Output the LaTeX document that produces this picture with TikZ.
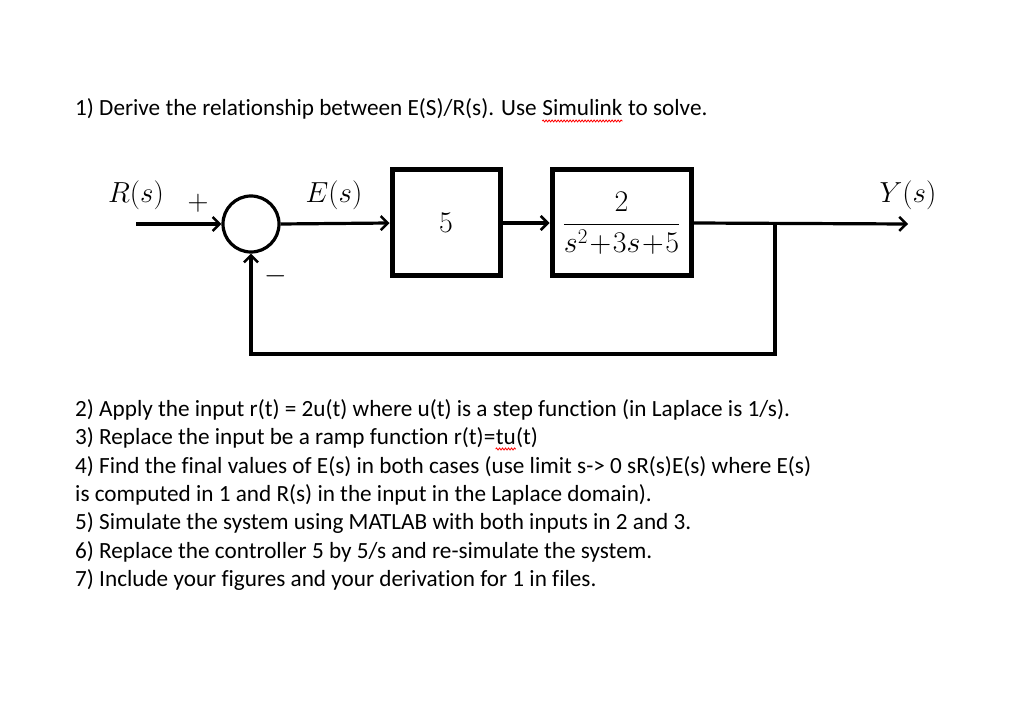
\RequirePackage{fix-cm}
\documentclass[tikz,border=0pt]{standalone}
\usepackage{fontspec}
\setmainfont[Ligatures=NoCommon]{Carlito}
\usetikzlibrary{arrows.meta,decorations.pathmorphing}
\begin{document}
\begin{tikzpicture}[x=1pt,y=-1pt,
  sig/.style={line width=3.2pt,-{Straight Barb[length=7pt,width=14pt,line width=2.5pt]}},
  wire/.style={line width=3.2pt},
  blk/.style={draw,line width=5pt,inner sep=0pt,minimum height=106pt,font=\fontsize{30}{34}\selectfont},
  sumnode/.style={draw,circle,line width=3.2pt,minimum size=56pt,inner sep=0pt},
  lbl/.style={font=\fontsize{29}{33}\selectfont,inner sep=0pt},
  txt/.style={anchor=base west,inner sep=0pt,font=\fontsize{23.2}{27}\selectfont},
  spell/.style={draw=red,line width=0.8pt,decorate,decoration={snake,amplitude=1pt,segment length=3pt}}]
\useasboundingbox (0,0) rectangle (1024,708);
\fill[white] (0,0) rectangle (1024,708);

\node[txt] (q1) at (75,116) {1) Derive the relationship between E(S)/R(s). Use\ \null};
\node[txt] (q1s) at (q1.base east) {Simulink};
\node[txt] (q1e) at (q1s.base east) {\null\ to solve.};
\draw[spell] ([yshift=-5pt]q1s.base west) -- ([yshift=-5pt]q1s.base east);

\coordinate (rin) at (136,224);
\node[sumnode] (sum) at (251,224) {};
\node[blk,minimum width=108pt] (g1) at (446,223) {$5$};
\node[blk,minimum width=139pt] (g2) at (621.5,223) {$\displaystyle\frac{2}{s^2\mskip1mu{+}\mskip1mu3s\mskip1mu{+}\mskip1mu5}$};
\coordinate (br) at (775,224);
\coordinate (yout) at (908,224);
\coordinate (fb1) at (775,354);
\coordinate (fb2) at (251,354);

\draw[sig] (rin) -- (sum.west);
\draw[sig] (sum.east) -- (g1.west);
\draw[sig] (g1.east) -- (g2.west);
\draw[sig] (g2.east) -- (yout);
\draw[wire] (br) -- (fb1) -- (fb2) -- ++(0,-2);
\draw[sig] (fb2) -- (sum.south);

\node[lbl] (lr) at (136,195) {$R(s)$};
\node[lbl] (lp) at (198,203) {$+$};
\node[lbl] (le) at (334,195) {$E(s)$};
\node[lbl] (lm) at (276,276) {$-$};
\node[lbl] (ly) at (908,195) {$Y(s)$};

\node[txt] (q2) at (75,416) {2) Apply the input r(t) = 2u(t) where u(t) is a step function (in Laplace is 1/s).};
\node[txt] (q3) at (75,444) {3) Replace the input be a ramp function r(t)=};
\node[txt] (q3s) at (q3.base east) {tu};
\node[txt] (q3e) at (q3s.base east) {(t)};
\draw[spell] ([yshift=-5pt]q3s.base west) -- ([yshift=-5pt]q3s.base east);
\node[txt] (q4) at (75,473) {4) Find the final values of E(s) in both cases (use limit s-> 0 sR(s)E(s) where E(s)};
\node[txt] (q4b) at (75,501) {is computed in 1 and R(s) in the input in the Laplace domain).};
\node[txt] (q5) at (75,529) {5) Simulate the system using MATLAB with both inputs in 2 and 3.};
\node[txt] (q6) at (75,558) {6) Replace the controller 5 by 5/s and re-simulate the system.};
\node[txt] (q7) at (75,586) {7) Include your figures and your derivation for 1 in files.};
\end{tikzpicture}
\end{document}
